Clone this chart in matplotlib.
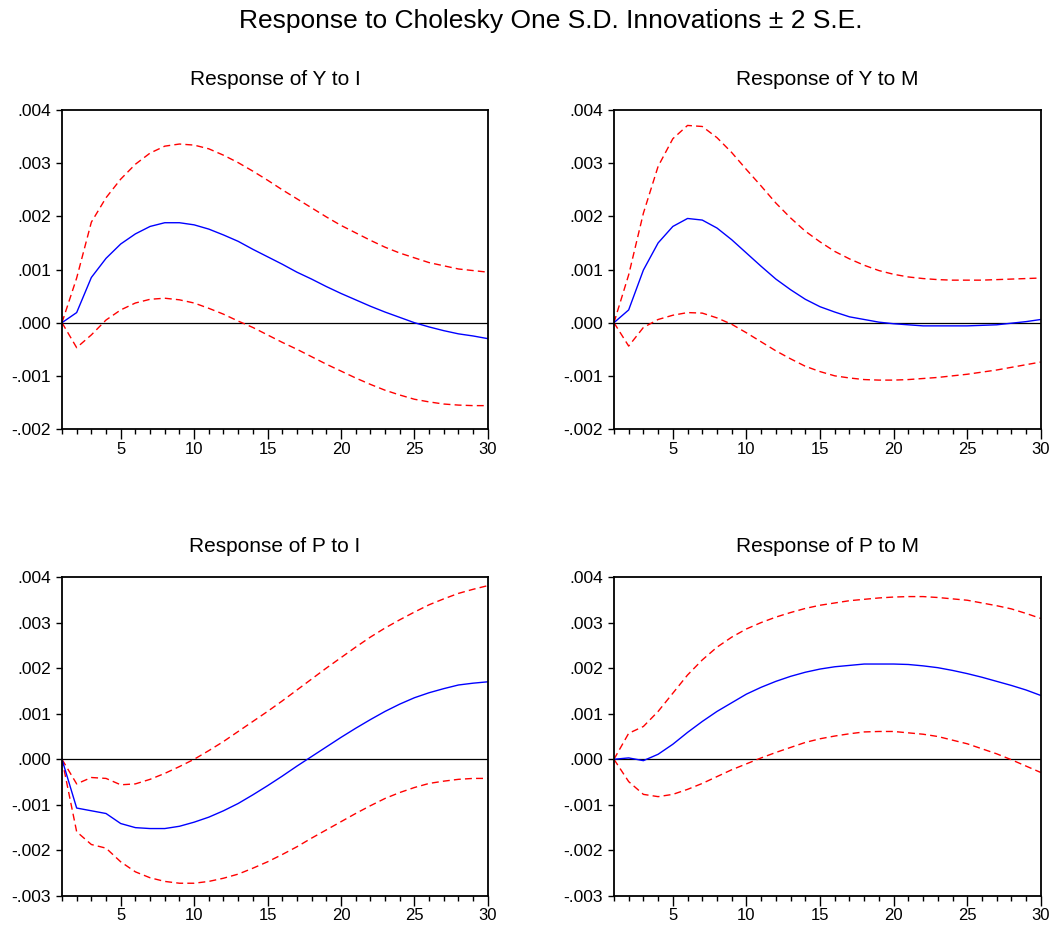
import numpy as np
import matplotlib
matplotlib.use("Agg")
import matplotlib.pyplot as plt
from matplotlib.ticker import FuncFormatter, MultipleLocator

plt.rcParams['font.family'] = ['Liberation Sans', 'DejaVu Sans']

# periods
periods = np.arange(1, 31)

# Response of Y to I
y_i_resp = [0, 0.00019, 0.00085, 0.00121, 0.00148, 0.00167, 0.00181, 0.00188, 0.00188, 0.00184,
            0.00176, 0.00165, 0.00153, 0.00138, 0.00124, 0.0011, 0.00095, 0.00082, 0.00068, 0.00055,
            0.00043, 0.00031, 0.0002, 0.0001, 0.0, -0.00008, -0.00015, -0.00021, -0.00025, -0.0003]
y_i_up = [0, 0.00084, 0.00189, 0.00235, 0.0027, 0.00298, 0.00319, 0.00332, 0.00336, 0.00334,
          0.00327, 0.00315, 0.00301, 0.00285, 0.00268, 0.0025, 0.00233, 0.00216, 0.00199, 0.00183,
          0.00169, 0.00155, 0.00142, 0.00131, 0.00122, 0.00113, 0.00107, 0.00101, 0.00098, 0.00095]
y_i_lo = [0, -0.00047, -0.00023, 0.00005, 0.00024, 0.00037, 0.00044, 0.00046, 0.00043, 0.00037,
          0.00027, 0.00016, 0.00003, -0.00009, -0.00023, -0.00037, -0.0005, -0.00064, -0.00078, -0.00091,
          -0.00104, -0.00116, -0.00127, -0.00136, -0.00144, -0.00149, -0.00153, -0.00155, -0.00156, -0.00156]

# Response of Y to M
y_m_resp = [0, 0.00024, 0.00099, 0.0015, 0.00181, 0.00196, 0.00193, 0.00178, 0.00156, 0.00131,
            0.00106, 0.00082, 0.00062, 0.00044, 0.0003, 0.0002, 0.00011, 0.00006, 0.00001, -0.00002,
            -0.00004, -0.00006, -0.00006, -0.00006, -0.00006, -0.00005, -0.00004, -0.00001, 0.00002, 0.00006]
y_m_up = [0, 0.0009, 0.00206, 0.00294, 0.00346, 0.00371, 0.00369, 0.00348, 0.0032, 0.00288,
          0.00257, 0.00225, 0.00197, 0.00172, 0.00152, 0.00134, 0.0012, 0.00108, 0.00098, 0.00091,
          0.00086, 0.00083, 0.00081, 0.0008, 0.0008, 0.0008, 0.00081, 0.00082, 0.00083, 0.00084]
y_m_lo = [0, -0.00044, -0.00009, 0.00006, 0.00014, 0.00019, 0.00018, 0.00009, -0.00003, -0.00019,
          -0.00036, -0.00053, -0.00068, -0.00082, -0.00092, -0.001, -0.00104, -0.00107, -0.00108, -0.00108,
          -0.00107, -0.00105, -0.00103, -0.001, -0.00097, -0.00093, -0.00089, -0.00084, -0.00079, -0.00074]

# Response of P to I
p_i_resp = [0, -0.00107, -0.00113, -0.00119, -0.00141, -0.0015, -0.00152, -0.00152, -0.00147, -0.00138,
            -0.00127, -0.00113, -0.00097, -0.00078, -0.00058, -0.00037, -0.00015, 0.00006, 0.00027, 0.00048,
            0.00068, 0.00087, 0.00105, 0.00121, 0.00135, 0.00146, 0.00155, 0.00163, 0.00167, 0.0017]
p_i_up = [0, -0.00054, -0.0004, -0.00042, -0.00056, -0.00054, -0.00044, -0.00031, -0.00016, 0.0,
          0.00019, 0.00039, 0.00061, 0.00083, 0.00105, 0.00128, 0.00152, 0.00176, 0.002, 0.00223,
          0.00246, 0.00268, 0.00288, 0.00306, 0.00323, 0.00339, 0.00352, 0.00364, 0.00373, 0.00381]
p_i_lo = [0, -0.00159, -0.00187, -0.00195, -0.00225, -0.00247, -0.0026, -0.00268, -0.00272, -0.00272,
          -0.00268, -0.00261, -0.00252, -0.00239, -0.00225, -0.00209, -0.00192, -0.00173, -0.00155, -0.00137,
          -0.00119, -0.00102, -0.00086, -0.00073, -0.00062, -0.00053, -0.00048, -0.00044, -0.00042, -0.00042]

# Response of P to M
p_m_resp = [0, 0.00003, -0.00003, 0.00011, 0.00033, 0.00059, 0.00083, 0.00105, 0.00124, 0.00143,
            0.00158, 0.00171, 0.00182, 0.00191, 0.00198, 0.00203, 0.00206, 0.00209, 0.00209, 0.00209,
            0.00208, 0.00205, 0.00201, 0.00195, 0.00188, 0.0018, 0.00171, 0.00162, 0.00152, 0.0014]
p_m_up = [0, 0.00057, 0.00072, 0.00105, 0.00145, 0.00185, 0.00218, 0.00246, 0.00268, 0.00286,
          0.003, 0.00312, 0.00322, 0.00331, 0.00338, 0.00343, 0.00348, 0.00351, 0.00354, 0.00356,
          0.00357, 0.00357, 0.00355, 0.00352, 0.00349, 0.00343, 0.00337, 0.0033, 0.0032, 0.00309]
p_m_lo = [0, -0.00049, -0.00077, -0.00082, -0.00077, -0.00066, -0.00053, -0.00038, -0.00023, -0.0001,
          0.00003, 0.00015, 0.00026, 0.00037, 0.00045, 0.00051, 0.00056, 0.0006, 0.00061, 0.00061,
          0.00058, 0.00055, 0.0005, 0.00042, 0.00034, 0.00023, 0.00012, -0.00001, -0.00015, -0.00029]

titles = ["Response of Y to I", "Response of Y to M", "Response of P to I", "Response of P to M"]
ylims = [(-0.002, 0.004), (-0.002, 0.004), (-0.003, 0.004), (-0.003, 0.004)]
series = [(y_i_resp, y_i_up, y_i_lo), (y_m_resp, y_m_up, y_m_lo),
          (p_i_resp, p_i_up, p_i_lo), (p_m_resp, p_m_up, p_m_lo)]

# axes rectangles (left, bottom, width, height) in figure fractions
rects = [(0.0588, 0.5367, 0.404, 0.3445), (0.5825, 0.5367, 0.405, 0.3445),
         (0.0588, 0.0324, 0.404, 0.3445), (0.5825, 0.0324, 0.405, 0.3445)]


def fmt(v, pos):
    s = "%.3f" % v
    if s.startswith("0"):
        s = s[1:]
    elif s.startswith("-0"):
        s = "-" + s[2:]
    if s == "-.000":
        s = ".000"
    return s


fig = plt.figure(figsize=(10.54, 9.26), dpi=100)
fig.text(0.523, 0.977, "Response to Cholesky One S.D. Innovations \u00b1 2 S.E.",
         ha="center", va="center", fontsize=19)

for i in range(4):
    ax = fig.add_axes(rects[i])
    resp, up, lo = series[i]
    ax.axhline(0, color="black", lw=0.9)
    ax.plot(periods, up, color="red", lw=1.0, ls=(0, (5, 3)))
    ax.plot(periods, lo, color="red", lw=1.0, ls=(0, (5, 3)))
    ax.plot(periods, resp, color="blue", lw=1.0)
    ax.set_xlim(1, 30)
    ax.set_ylim(*ylims[i])
    ax.xaxis.set_major_locator(MultipleLocator(5))
    ax.xaxis.set_minor_locator(MultipleLocator(1))
    ax.yaxis.set_major_locator(MultipleLocator(0.001))
    ax.yaxis.set_major_formatter(FuncFormatter(fmt))
    ax.tick_params(axis="x", which="major", direction="out", length=7, width=1, labelsize=12, pad=2)
    ax.tick_params(axis="x", which="minor", direction="out", length=3.5, width=1)
    ax.tick_params(axis="y", direction="out", length=4, width=1, labelsize=12.5, pad=4)
    for sp in ax.spines.values():
        sp.set_linewidth(1.3)
    ax.set_title(titles[i], fontsize=15, pad=18)

fig.savefig("out.png", dpi=100)
